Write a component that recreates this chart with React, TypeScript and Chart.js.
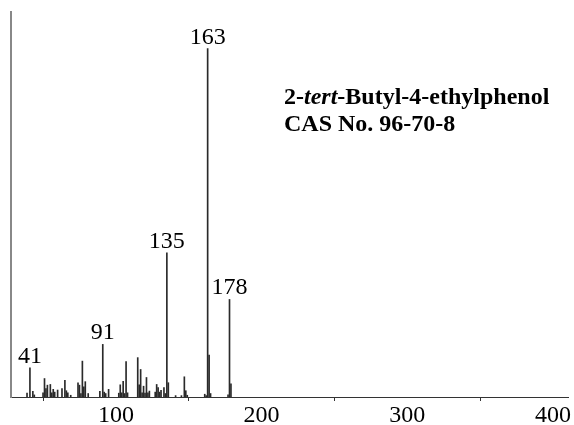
import React, { useEffect, useRef } from "react";
import { Chart, registerables } from "chart.js";

Chart.register(...registerables);

const mz = [39, 41, 43, 44, 50, 51, 52, 53, 55, 56, 57, 58, 60, 63, 65, 66, 67, 69, 74, 75, 76, 77, 78, 79, 81, 89, 91, 92, 93, 95, 102, 103, 104, 105, 106, 107, 108, 115, 116, 117, 118, 119, 120, 121, 122, 123, 127, 128, 129, 130, 131, 133, 134, 135, 136, 141, 145, 147, 148, 149, 161, 162, 163, 164, 165, 177, 178, 179];
const intensity = [1.1, 8.4, 1.6, 0.6, 1.2, 5.3, 2.4, 3.4, 3.6, 1.2, 2.2, 1.4, 2.0, 2.4, 4.8, 1.8, 1.2, 0.5, 4.1, 3.4, 1.0, 10.3, 2.9, 4.4, 1.0, 1.6, 15.1, 1.4, 1.0, 2.2, 1.1, 3.5, 1.2, 4.5, 1.0, 10.2, 1.2, 11.3, 3.5, 7.9, 1.2, 3.1, 1.1, 5.6, 1.2, 1.7, 1.4, 3.6, 2.7, 1.4, 1.9, 2.7, 1.0, 41.4, 4.1, 0.4, 0.4, 5.8, 1.8, 0.5, 0.8, 0.4, 100, 12.0, 1.0, 0.6, 28.0, 3.8];
const labeledPeaks = [41, 91, 135, 163, 178];
const xTicks = [100, 200, 300, 400];
const titleLines = ["2-", "tert", "-Butyl-4-ethylphenol"];
const casLine = "CAS No. 96-70-8";

const FONT = "'Liberation Serif', 'Times New Roman', serif";

const annotate = {
  id: "annotate",
  afterDatasetsDraw(chart: any) {
    const { ctx, scales } = chart;
    const xs = scales.x;
    const ys = scales.y;
    ctx.save();
    ctx.fillStyle = "#000";
    ctx.font = `24px ${FONT}`;
    ctx.textAlign = "center";
    ctx.textBaseline = "alphabetic";
    labeledPeaks.forEach((p) => {
      const i = mz.indexOf(p);
      if (i < 0) return;
      const px = xs.getPixelForValue(p);
      const py = ys.getPixelForValue(intensity[i]);
      ctx.fillText(String(p), px, py - 5);
    });
    // title
    ctx.textAlign = "left";
    let x = 284;
    const y1 = 104;
    ctx.font = `bold 24px ${FONT}`;
    ctx.fillText(titleLines[0], x, y1);
    x += ctx.measureText(titleLines[0]).width;
    ctx.font = `italic bold 24px ${FONT}`;
    ctx.fillText(titleLines[1], x, y1);
    x += ctx.measureText(titleLines[1]).width;
    ctx.font = `bold 24px ${FONT}`;
    ctx.fillText(titleLines[2], x, y1);
    ctx.fillText(casLine, 284, 131);
    ctx.restore();
  },
};

export default function App() {
  const ref = useRef<HTMLCanvasElement>(null);
  useEffect(() => {
    if (!ref.current) return;
    const chart = new Chart(ref.current, {
      type: "bar",
      data: {
        datasets: [
          {
            data: mz.map((m, i) => ({ x: m, y: intensity[i] })),
            backgroundColor: "#2a2a2a",
            borderWidth: 0,
            barThickness: 1,
          } as any,
        ],
      },
      options: {
        responsive: false,
        animation: false,
        layout: { padding: { left: 11, right: 4, top: 12, bottom: 0 } },
        plugins: { legend: { display: false }, tooltip: { enabled: false }, title: { display: false } },
        scales: {
          x: {
            type: "linear",
            min: 28,
            max: 411,
            offset: false,
            grid: { display: true, drawOnChartArea: false, drawTicks: true, tickLength: 4, color: "#333" },
            border: { display: true, color: "#333", width: 1 },
            ticks: {
              font: { family: FONT, size: 24, lineHeight: 1 },
              color: "#000",
              padding: 3,
              autoSkip: false,
              maxRotation: 0,
            },
            afterBuildTicks: (axis: any) => {
              axis.ticks = xTicks.map((v) => ({ value: v }));
            },
            afterFit: (axis: any) => {
              axis.height = 28;
            },
          },
          y: {
            min: 0,
            max: 110.5,
            grid: { display: false, drawTicks: false },
            border: { display: true, color: "#888", width: 2 },
            ticks: { display: false },
          },
        },
      },
      plugins: [annotate],
    });
    return () => chart.destroy();
  }, []);
  return (
    <div style={{ position: "fixed", left: 0, top: 0, width: 574, height: 425, background: "#fff" }}>
      <canvas ref={ref} width={574} height={425} />
    </div>
  );
}
